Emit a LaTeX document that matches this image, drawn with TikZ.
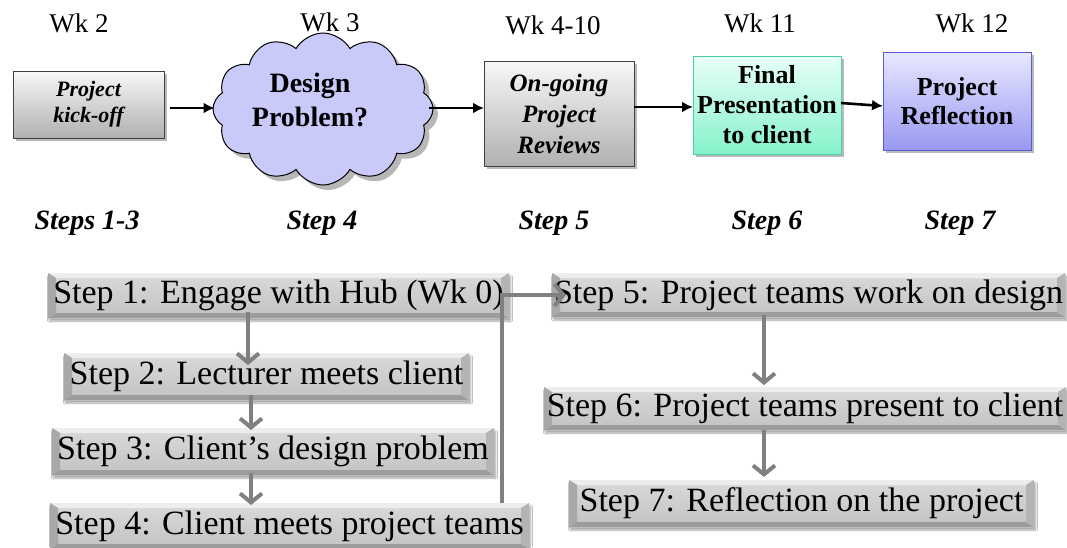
\documentclass[tikz,border=0pt]{standalone}
\usepackage{fontspec}
\setmainfont{Liberation Serif}
\usetikzlibrary{shapes.symbols,shadows,shadows.blur,arrows.meta,calc}
\definecolor{arrowgray}{HTML}{808080}
\definecolor{bvtop}{HTML}{DADADA}
\definecolor{bvbot}{HTML}{C2C2C2}
\definecolor{bvlight}{HTML}{EDEDED}
\definecolor{bvleft}{HTML}{A8A8A8}
\definecolor{bvright}{HTML}{B4B4B4}
\definecolor{bvbottom}{HTML}{9C9C9C}
\definecolor{greytop}{HTML}{F8F8F8}
\definecolor{greybot}{HTML}{B0B0B0}
\definecolor{minttop}{HTML}{E8FFF8}
\definecolor{mintbot}{HTML}{86F2CA}
\definecolor{mintline}{HTML}{4CCFA9}
\definecolor{violtop}{HTML}{E8E8FF}
\definecolor{violbot}{HTML}{9898F2}
\definecolor{violline}{HTML}{5A5AD8}
\definecolor{cloudfill}{HTML}{CACAFA}
\begin{document}
\begin{tikzpicture}[x=1pt,y=-1pt,
  wk/.style={font=\fontsize{27}{32}\selectfont},
  steplbl/.style={font=\fontsize{28}{33}\selectfont\bfseries\itshape},
  topbox/.style={inner sep=0pt, outer sep=0pt, align=center, line width=1pt,
    drop shadow={shadow xshift=2.5pt, shadow yshift=-3pt, fill=black!60, opacity=0.45}},
  greybox/.style={topbox, draw=black!75, top color=greytop, bottom color=greybot},
  mintbox/.style={topbox, draw=mintline, top color=minttop, bottom color=mintbot},
  violbox/.style={topbox, draw=violline, top color=violtop, bottom color=violbot},
  toparrow/.style={line width=2.6pt, -{Latex[length=11pt,width=11pt]}},
  cloudshape/.style={cloud, cloud puffs=12, cloud puff arc=120, cloud ignores aspect,
    minimum width=220pt, minimum height=152pt, inner sep=0pt},
  bevel/.style={inner sep=0pt, outer sep=0pt, top color=bvtop, bottom color=bvbot,
    font=\fontsize{34}{40}\selectfont,
    blur shadow={shadow xshift=1.5pt, shadow yshift=-3pt, shadow blur steps=6, shadow opacity=35},
    path picture={
      \coordinate (pNW) at (path picture bounding box.north west);
      \coordinate (pNE) at (path picture bounding box.north east);
      \coordinate (pSW) at (path picture bounding box.south west);
      \coordinate (pSE) at (path picture bounding box.south east);
      \fill[bvlight] (pNW) -- (pNE) -- ($(pNE)+(-8,5)$) -- ($(pNW)+(8,5)$) -- cycle;
      \fill[bvbottom] (pSW) -- (pSE) -- ($(pSE)+(-8,-5)$) -- ($(pSW)+(8,-5)$) -- cycle;
      \fill[bvleft] (pNW) -- ($(pNW)+(8,5)$) -- ($(pSW)+(8,-5)$) -- (pSW) -- cycle;
      \fill[bvright] (pNE) -- ($(pNE)+(-8,5)$) -- ($(pSE)+(-8,-5)$) -- (pSE) -- cycle;
    }},
  grayline/.style={draw=arrowgray, line width=4pt},
  grayarrow/.style={grayline, -{Straight Barb[length=9pt,width=22pt]}}
]
\useasboundingbox[fill=white] (0,0) rectangle (1067,547);

% week labels
\node[wk] (wk2) at (79,23) {Wk 2};
\node[wk] (wk3) at (330,22) {Wk 3};
\node[wk] (wk410) at (553,25) {Wk 4-10};
\node[wk] (wk11) at (760,23) {Wk 11};
\node[wk] (wk12) at (972,23) {Wk 12};

% top row
\node[greybox, minimum width=151pt, minimum height=67pt,
  font=\fontsize{22}{26}\selectfont\bfseries\itshape] (kick) at (88.5,104.5) {Project\\kick-off};
\node[cloudshape, fill=black!40, opacity=0.7] (cloudsh) at (328,114) {};
\node[cloudshape, draw=black, line width=1pt, fill=cloudfill] (cloud) at (323,109) {};
\node[font=\fontsize{28}{34}\selectfont\bfseries, align=center] (cloudtxt) at (310,100) {Design\\Problem?};
\node[greybox, minimum width=150pt, minimum height=105pt,
  font=\fontsize{25}{31}\selectfont\bfseries\itshape] (ongo) at (559,113.5) {On-going\\Project\\Reviews};
\node[mintbox, minimum width=148pt, minimum height=98pt,
  font=\fontsize{26}{30}\selectfont\bfseries] (final) at (767,105) {Final\\Presentation\\to client};
\node[violbox, minimum width=148pt, minimum height=98pt,
  font=\fontsize{26}{29}\selectfont\bfseries] (refl) at (957,101) {Project\\Reflection};

\draw[toparrow] ($(kick.east)+(6,3.5)$) -- ($(cloud.west)+(2,-1)$);
\draw[toparrow] ($(cloud.east)+(-5,-1)$) -- ($(ongo.west)+(0,-5.5)$);
\draw[toparrow] ($(ongo.east)+(0,-6.5)$) -- ($(final.west)+(0,2)$);
\draw[toparrow] ($(final.east)+(0,-2)$) -- ($(refl.west)+(0,5)$);

% step labels
\node[steplbl] (s13) at (87,223) {Steps 1-3};
\node[steplbl] (s4) at (322,223) {Step 4};
\node[steplbl] (s5) at (554,223) {Step 5};
\node[steplbl] (s6) at (767,223) {Step 6};
\node[steplbl] (s7) at (960,223) {Step 7};

% bottom bevel boxes
\node[bevel, minimum width=461pt, minimum height=45pt] (b1) at (278.5,295.5) {Step 1: Engage with Hub (Wk 0)};
\node[bevel, minimum width=405pt, minimum height=47pt] (b2) at (266.5,376.5) {Step 2: Lecturer meets client};
\node[bevel, minimum width=442pt, minimum height=47pt] (b3) at (273,451.5) {Step 3: Client’s design problem};
\node[bevel, minimum width=479pt, minimum height=46pt] (b4) at (289.5,526) {Step 4: Client meets project teams};
\node[bevel, minimum width=513pt, minimum height=44pt] (b5) at (808.5,295) {Step 5: Project teams work on design};
\node[bevel, minimum width=522pt, minimum height=43pt] (b6) at (805,408.5) {Step 6: Project teams present to client};
\node[bevel, minimum width=465pt, minimum height=47pt] (b7) at (801.5,503.5) {Step 7: Reflection on the project};

\coordinate (xa) at (248,0);
\coordinate (xb) at (251,0);
\coordinate (xc) at (764,0);
\coordinate (xd) at (502,0);

\draw[grayarrow] ($(b1.south -| xa)+(0,-6)$) -- ($(b2.north -| xa)+(0,12)$);
\draw[grayarrow] ($(b2.south -| xb)+(0,-5)$) -- ($(b3.north -| xb)+(0,2)$);
\draw[grayarrow] ($(b3.south -| xb)+(0,-2)$) -- ($(b4.north -| xb)+(0,2)$);
\draw[grayarrow] ($(b5.south -| xc)+(0,-2)$) -- ($(b6.north -| xc)+(0,-2)$);
\draw[grayarrow] (b6.south -| xc) -- ($(b7.north -| xc)+(0,-3)$);
\draw[grayarrow] (b4.north -| xd) |- ($(b5.west)+(14,0)$);
\end{tikzpicture}
\end{document}
